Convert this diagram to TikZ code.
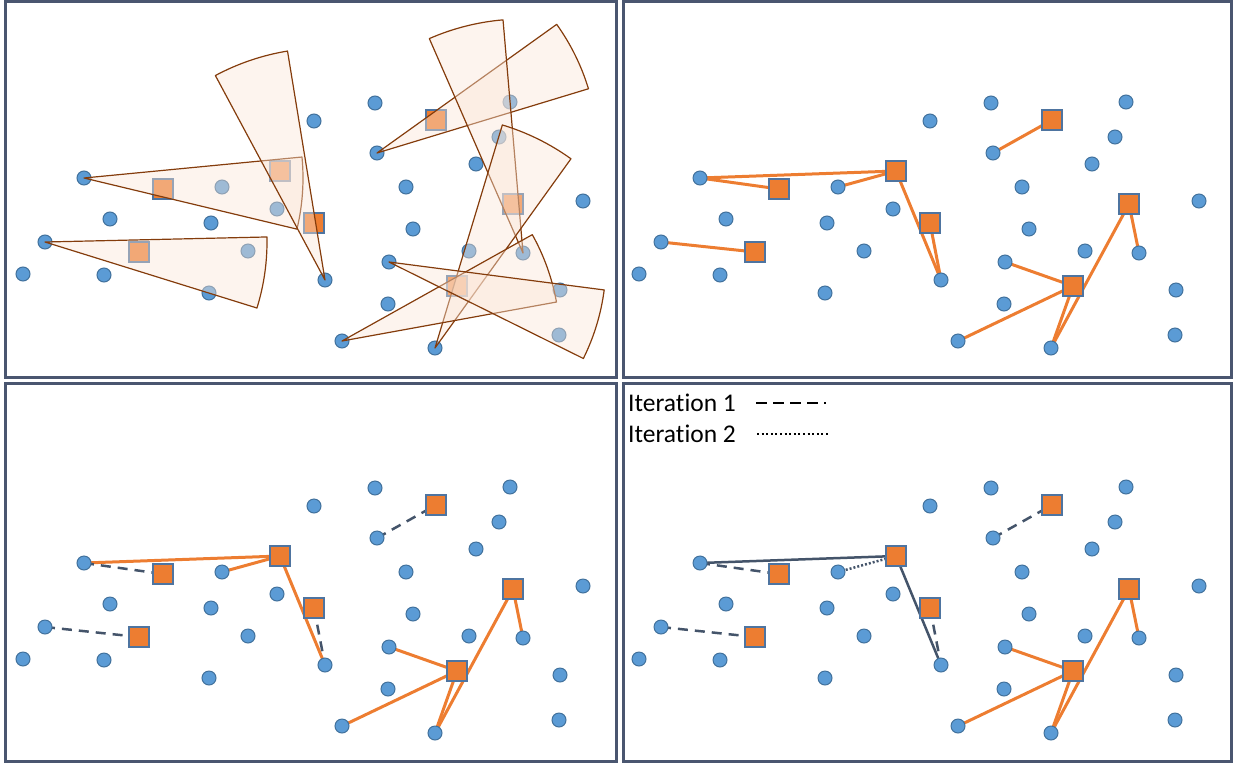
\documentclass[tikz,border=0pt]{standalone}
\usepackage{fontspec}
\setmainfont{Carlito}[Ligatures=NoCommon]
\pgfdeclarelayer{bg}\pgfdeclarelayer{fg}\pgfsetlayers{bg,main,fg}
\definecolor{dotblue}{HTML}{5B9BD5}
\definecolor{dotline}{HTML}{41719C}
\definecolor{sqorange}{HTML}{ED7D31}
\definecolor{sqline}{HTML}{4E74A0}
\definecolor{framec}{HTML}{4A5670}
\definecolor{darkc}{HTML}{44546A}
\definecolor{secfill}{HTML}{FBE5D6}
\definecolor{secline}{HTML}{843C0C}
\tikzset{
  dotnode/.style={circle,minimum size=14pt,inner sep=0pt,fill=dotblue,draw=dotline,line width=1pt},
  sqnode/.style={rectangle,minimum size=20pt,inner sep=0pt,fill=sqorange,draw=sqline,line width=1.1pt},
  frame/.style={draw=framec,line width=3pt},
  oline/.style={draw=sqorange,line width=3pt},
  dline/.style={draw=darkc,line width=2.5pt},
  dashline/.style={draw=darkc,line width=2.5pt,dash pattern=on 10pt off 7pt},
  dotline/.style={draw=darkc,line width=2.5pt,dash pattern=on 2pt off 2pt},
  sectorsh/.style={fill=secfill,fill opacity=0.42,draw=secline,line width=1.2pt,line join=round},
  legtext/.style={inner sep=0pt,anchor=base west,font=\fontsize{25.5}{30}\selectfont}
}
\def\dotlist{1/84/178,2/110/219,3/211/223,4/45/242,5/23/274,6/104/275,7/209/293,8/222/187,9/277/209,10/248/251,11/314/121,12/375/103,13/377/153,14/476/164,15/406/187,16/413/229,17/583/201,18/325/280,19/389/262,20/388/304,21/342/341,22/435/348,23/510/102,24/499/137,25/469/251,26/523/253,27/560/290,28/559/335}
\def\sqlist{1/163/189,2/139/252,3/280/171,4/314/223,5/436/120,6/513/204,7/457/286}
\newcommand\mkpanel[3]{%
  \begin{scope}[shift={(#2,#3)}]
    \foreach \n/\px/\py in \dotlist {\node[dotnode] (#1d\n) at (\px,\py) {};}
    \foreach \n/\px/\py in \sqlist {\node[sqnode] (#1s\n) at (\px,\py) {};}
  \end{scope}}
\newcommand\sector[4]{\draw[sectorsh] (A#1.center) -- ++(#2:#4) arc[start angle=#2, end angle=#3, radius=#4] -- cycle;}
\begin{document}
\begin{tikzpicture}[x=1pt,y=-1pt]
\useasboundingbox (0,0) rectangle (1233,763);
% frames
\draw[frame] (5.5,1) rectangle (616.5,377.5);
\draw[frame] (623.5,1) rectangle (1231.5,377.5);
\draw[frame] (5.5,383.5) rectangle (616.5,761.5);
\draw[frame] (623.5,383.5) rectangle (1231.5,761.5);
% panels
\mkpanel{A}{0}{0}
\mkpanel{B}{616}{0}
\mkpanel{C}{0}{385}
\mkpanel{D}{616}{385}
% sectors in panel 1
\begin{pgfonlayer}{fg}
\sector{d1}{-5.5}{13.5}{219}
\sector{d4}{-1.3}{17.3}{222}
\sector{d18}{-118.2}{-99.3}{232}
\sector{d13}{-35.6}{-16.9}{221}
\sector{d26}{-113.6}{-94.9}{234}
\sector{d22}{-73.2}{-54.3}{233}
\sector{d21}{-29.2}{-10.3}{218}
\sector{d19}{7.4}{26.4}{217}
\end{pgfonlayer}
% connectors
\begin{pgfonlayer}{bg}
\foreach \a/\b in {d1/s3,d1/s1,d8/s3,s3/d18,s4/d18,d4/s2,d13/s5,d19/s7,d21/s7,d22/s7,d22/s6,s6/d26}
  \draw[oline] (B\a.center) -- (B\b.center);
\foreach \a/\b in {d1/s3,d8/s3,s3/d18,d19/s7,d21/s7,d22/s7,d22/s6,s6/d26}
  \draw[oline] (C\a.center) -- (C\b.center);
\foreach \a/\b in {d1/s1,s4/d18,d4/s2,d13/s5}
  \draw[dashline] (C\a.center) -- (C\b.center);
\foreach \a/\b in {d1/s3,s3/d18}
  \draw[dline] (D\a.center) -- (D\b.center);
\draw[dotline] (Dd8.center) -- (Ds3.center);
\foreach \a/\b in {d1/s1,s4/d18,d4/s2,d13/s5}
  \draw[dashline] (D\a.center) -- (D\b.center);
\foreach \a/\b in {d19/s7,d21/s7,d22/s7,d22/s6,s6/d26}
  \draw[oline] (D\a.center) -- (D\b.center);
\end{pgfonlayer}
% legend
\node[legtext] (it1) at (628,411) {Iteration 1};
\node[legtext] (it2) at (628,442) {Iteration 2};
\coordinate (l1a) at (756,403); \coordinate (l1b) at (826,403);
\coordinate (l2a) at (757,434); \coordinate (l2b) at (828,434);
\draw[black,line width=2pt,dash pattern=on 10.5pt off 6.5pt] (l1a) -- (l1b);
\draw[black,line width=2pt,dash pattern=on 2pt off 2.6pt] (l2a) -- (l2b);
\end{tikzpicture}
\end{document}
